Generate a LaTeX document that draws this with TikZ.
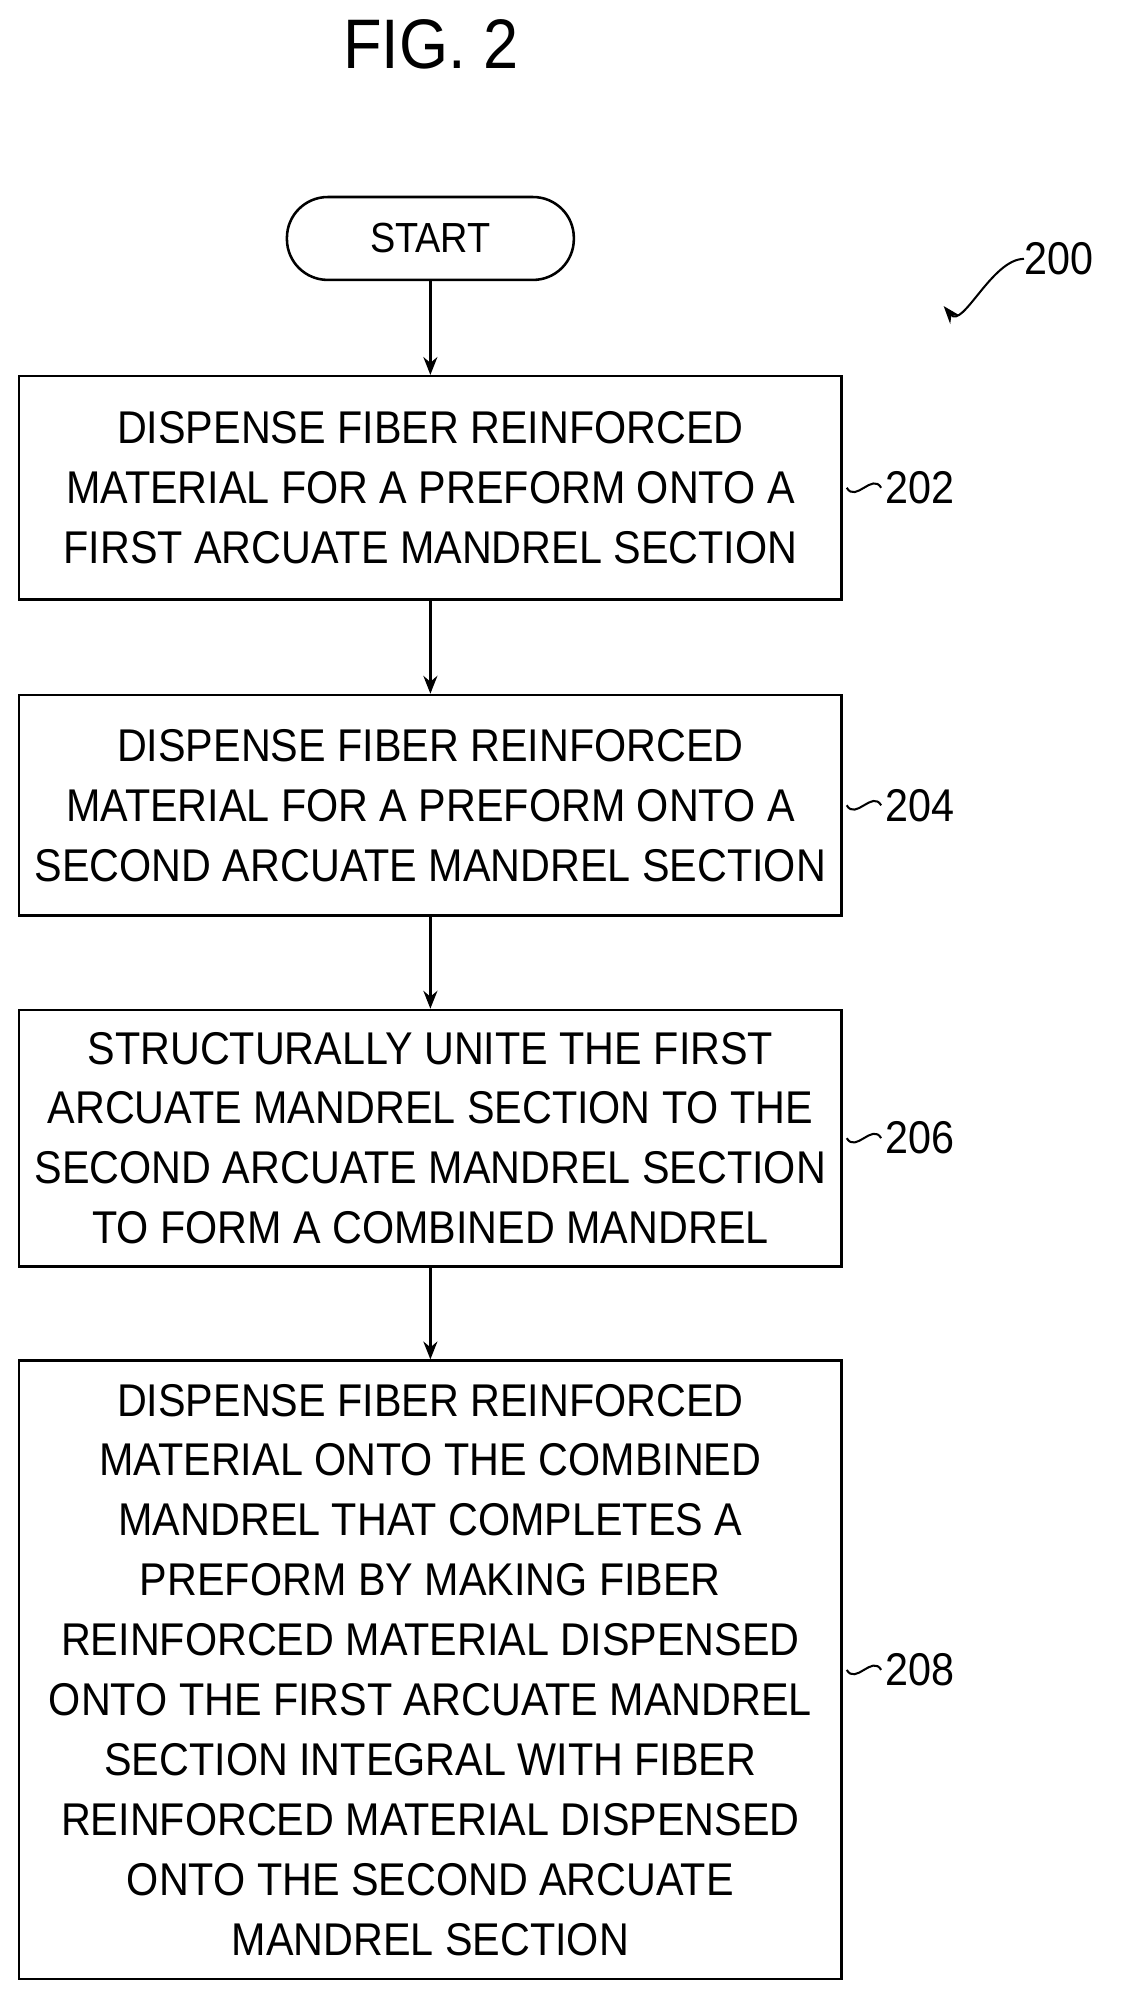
\documentclass[tikz,border=0pt]{standalone}
\usepackage{fontspec}
\setmainfont{Liberation Sans}[FakeStretch=0.9]
\usetikzlibrary{arrows.meta}
\begin{document}
\begin{tikzpicture}[x=1pt,y=-1pt,
  box/.style={draw,line width=2pt,minimum width=645pt,align=center,font=\fontsize{36}{47}\selectfont,inner sep=0pt},
  arr/.style={line width=2pt,-{Stealth[length=14pt,width=11pt]}},
  lbl/.style={font=\fontsize{36}{40}\selectfont,anchor=west,inner sep=0pt}]
\useasboundingbox (0,0) rectangle (880,1577);
\node[font=\fontsize{55}{60}\selectfont] (fig) at (338,35) {FIG. 2};
\node[draw,line width=2pt,rounded corners=32pt,minimum width=225pt,minimum height=65pt,font=\fontsize{33}{36}\selectfont] (start) at (337.5,187) {START};
\node[box,minimum height=175pt] (b202) at (337.5,382.5) {DISPENSE FIBER REINFORCED\\MATERIAL FOR A PREFORM ONTO A\\FIRST ARCUATE MANDREL SECTION};
\node[box,minimum height=173pt] (b204) at (337.5,631.5) {DISPENSE FIBER REINFORCED\\MATERIAL FOR A PREFORM ONTO A\\SECOND ARCUATE MANDREL SECTION};
\node[box,minimum height=201pt] (b206) at (337.5,892.5) {STRUCTURALLY UNITE THE FIRST\\ARCUATE MANDREL SECTION TO THE\\SECOND ARCUATE MANDREL SECTION\\TO FORM A COMBINED MANDREL};
\node[box,minimum height=485pt] (b208) at (337.5,1309.5) {DISPENSE FIBER REINFORCED\\MATERIAL ONTO THE COMBINED\\MANDREL THAT COMPLETES A\\PREFORM BY MAKING FIBER\\REINFORCED MATERIAL DISPENSED\\ONTO THE FIRST ARCUATE MANDREL\\SECTION INTEGRAL WITH FIBER\\REINFORCED MATERIAL DISPENSED\\ONTO THE SECOND ARCUATE\\MANDREL SECTION};
\draw[arr] (start) -- (b202);
\draw[arr] (b202) -- (b204);
\draw[arr] (b204) -- (b206);
\draw[arr] (b206) -- (b208);
\foreach \b/\t in {b202/202,b204/204,b206/206,b208/208}{
  \node[lbl] (l\t) at ([xshift=33pt]\b.east) {\t};
  \draw[line width=1.6pt] (\b.east) ++(3pt,0) .. controls +(7pt,-12pt) and +(-7pt,12pt) .. ++(27pt,0);
}
\node[lbl] (l200) at (803,203) {200};
\coordinate (a200) at (740,240);
\draw[line width=1.6pt,-{Stealth[length=14pt,width=10pt]}] (l200.west) .. controls +(-25pt,0pt) and +(15pt,-18pt) .. (a200);
\end{tikzpicture}
\end{document}
